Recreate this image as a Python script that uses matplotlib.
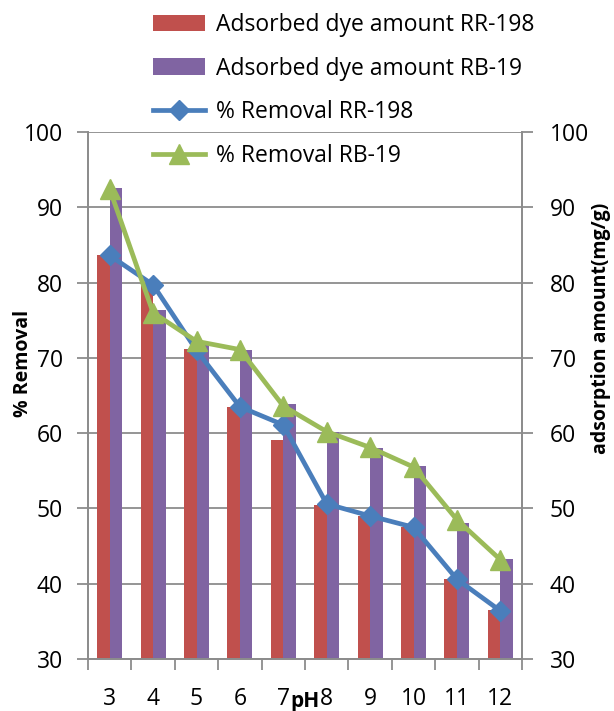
import matplotlib
matplotlib.use("Agg")
import matplotlib.pyplot as plt
import numpy as np
from matplotlib.patches import Patch
from matplotlib.lines import Line2D

plt.rcParams['font.family'] = ['Open Sans', 'DejaVu Sans']

ph_labels = ["3", "4", "5", "6", "7", "8", "9", "10", "11", "12"]
ads_rr198 = [83.6, 79.7, 71.2, 63.5, 59.1, 50.5, 49.0, 47.5, 40.6, 36.5]
ads_rb19 = [92.5, 76.3, 71.7, 71.1, 63.9, 60.2, 58.0, 55.6, 48.1, 43.3]
rem_rr198 = [83.6, 79.7, 71.0, 63.5, 61.1, 50.6, 49.0, 47.5, 40.6, 36.4]
rem_rb19 = [92.4, 76.0, 72.2, 71.1, 63.6, 60.2, 58.1, 55.5, 48.5, 43.2]
yticks = [30, 40, 50, 60, 70, 80, 90, 100]

c_red = "#C0504D"
c_purple = "#8064A2"
c_blue = "#4A7EBB"
c_green = "#9BBB59"
c_grid = "#8C8C8C"

fig = plt.figure(figsize=(6.14, 7.11), dpi=100)
ax = fig.add_axes([88/614, 1-659/711, (522-88)/614, (659-132)/711])
ax2 = ax.twinx()

x = np.arange(len(ph_labels))
bw = 0.29

# bars on right axis (adsorption amount)
ax2.set_axisbelow(True)
ax2.yaxis.grid(True, color=c_grid, linewidth=1.3)
ax2.bar(x - bw/2, ads_rr198, width=bw, color=c_red, zorder=2)
ax2.bar(x + bw/2, ads_rb19, width=bw, color=c_purple, zorder=2)

# lines on left axis (% removal), drawn above
ax.set_zorder(ax2.get_zorder() + 1)
ax.patch.set_visible(False)
ax.plot(x, rem_rr198, color=c_blue, lw=3.4, marker='D', ms=10.5, zorder=4)
ax.plot(x, rem_rb19, color=c_green, lw=3.4, marker='^', ms=14.5, zorder=5)

for a in (ax, ax2):
    a.set_ylim(30, 100)
    a.set_xlim(-0.5, len(ph_labels) - 0.5)
    a.set_yticks(yticks)
    for s in a.spines.values():
        s.set_color(c_grid)
        s.set_linewidth(1.3)
    a.spines['top'].set_visible(False)

ax.tick_params(axis='y', direction='out', length=8, width=1.3, color=c_grid,
               labelsize=16.5, pad=10)
ax2.tick_params(axis='y', direction='out', length=8, width=1.3, color=c_grid,
                labelsize=16.5, pad=12)
ax.set_xticks(x)
ax.set_xticklabels(ph_labels)
ax.set_xticks(np.arange(-0.5, len(ph_labels)), minor=True)
ax.tick_params(axis='x', which='major', length=0, labelsize=16.5, pad=20)
ax.tick_params(axis='x', which='minor', length=8, width=1.3, color=c_grid, direction='out')
ax2.tick_params(axis='x', which='both', length=0, labelbottom=False)

fig.text(23/614, 1-363/711, "% Removal", fontsize=14, fontweight='bold',
         rotation=90, ha='center', va='center')
fig.text(601/614, 1-328/711, "adsorption amount(mg/g)", fontsize=14, fontweight='bold',
         rotation=90, ha='center', va='center')
fig.text(305/614, 1-702/711, "pH", fontsize=15, fontweight='bold', ha='center', va='center')

handles = [
    Patch(facecolor=c_red, edgecolor='none'),
    Patch(facecolor=c_purple, edgecolor='none'),
    Line2D([], [], color=c_blue, lw=3.4, marker='D', ms=10.5),
    Line2D([], [], color=c_green, lw=3.4, marker='^', ms=14.5),
]
labels = ["Adsorbed dye amount RR-198", "Adsorbed dye amount RB-19",
          "% Removal RR-198", "% Removal RB-19"]
fig.legend(handles, labels, loc='upper left', bbox_to_anchor=(140/614, 1.0),
           frameon=False, fontsize=16.5, handlelength=2.3, handletextpad=0.45,
           labelspacing=0.87, borderaxespad=0.15)

fig.savefig("out.png", dpi=100)
